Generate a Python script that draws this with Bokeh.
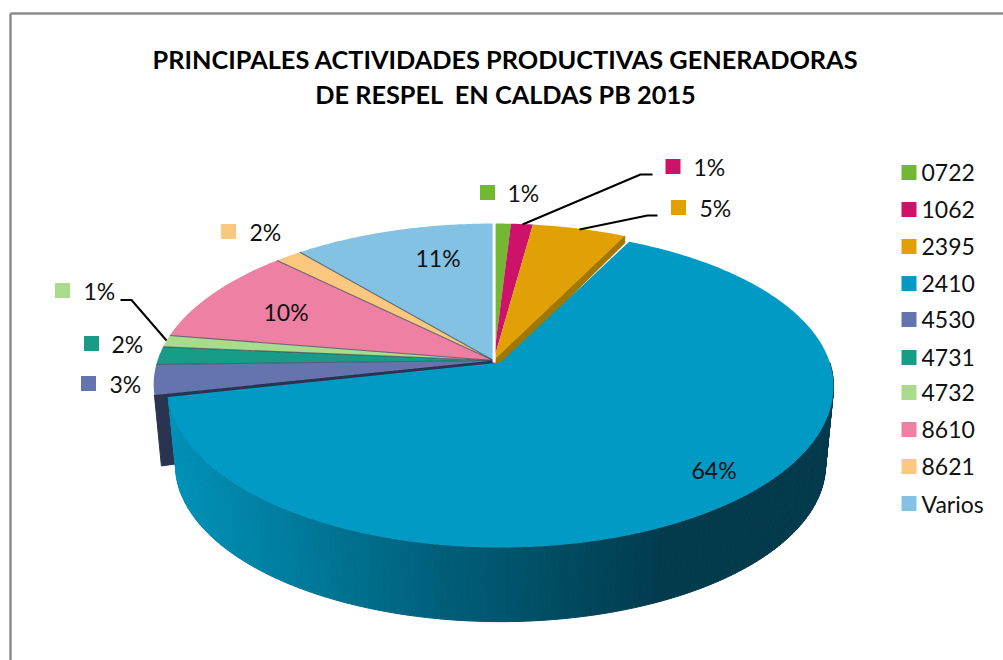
import numpy as np
from bokeh.plotting import figure
from bokeh.embed import file_html
from bokeh.resources import INLINE
from bokeh.core.properties import value

# ---- data ----
categories = ["0722", "1062", "2395", "2410", "4530", "4731", "4732", "8610", "8621", "Varios"]
shares = [0.95, 1.2, 5.15, 64.3, 3.0, 1.8, 1.2, 9.8, 1.5, 11.1]
pct_labels = ["1%", "1%", "5%", "64%", "3%", "2%", "1%", "10%", "2%", "11%"]
colors = ["#72b833", "#cf1269", "#e0a006", "#009ac4", "#6474ad",
          "#189c88", "#a8dc8c", "#ee80a4", "#fcc880", "#84c2e4"]
title_lines = ["PRINCIPALES ACTIVIDADES PRODUCTIVAS GENERADORAS", "DE RESPEL\u00a0 EN CALDAS PB 2015"]

# ---- layout (image pixel coordinates) ----
FONT = value("Lato")
p = figure(width=1003, height=660, x_range=(0, 1003), y_range=(660, 0),
           output_backend="svg", toolbar_location=None, min_border=0)
p.axis.visible = False
p.grid.visible = False
p.outline_line_color = None
p.background_fill_color = "white"

K, A_Y, A_X = 0.149, 157.4, 336.0

def rim(theta, cx, cy, scale=1.0, back=1.0):
    u, v = np.sin(theta), -np.cos(theta)
    w = 1 - K * v
    return cx + scale * A_X * u / w, cy + A_Y * v / w * np.where(v < 0, back, 1.0)

def arc(a0, a1, cx, cy, scale=1.0, back=1.0):
    n = max(3, int(abs(a1 - a0) * 90))
    x, y = rim(np.linspace(a0, a1, n), cx, cy, scale, back)
    return [cx] + list(x), [cy] + list(y)

edges = np.cumsum([0] + shares) / sum(shares) * 2 * np.pi
CX, CY = 493.0, 360.0
BX, BY, BS, BB = 500.0, 362.0, 0.98, 0.97   # pulled-out slice
big = categories.index("2410")
gold = categories.index("2395")

# frame
p.line([10, 10], [660, 13], line_color="#8c8c8c", line_width=2.5)
p.line([10, 1003], [13, 13], line_color="#8c8c8c", line_width=2.5)

# dark radial wall of 4530, behind the pulled-out slice
x0, y0 = rim(edges[big + 1], CX, CY)
p.patch([CX, x0, x0 + 7, CX + 7], [CY, y0, y0 + 71, CY + 57], fill_color="#2a3350", line_color="#2a3350")
# radial wall of 2395
x1, y1 = rim(edges[gold + 1], CX, CY)
p.patch([CX, x1, x1, CX + 5], [CY, y1, y1 + 7, CY + 7], fill_color="#a07800", line_color="#a07800")

# top faces of the resting slices
for i in range(len(shares)):
    if i == big:
        continue
    xs, ys = arc(edges[i], edges[i + 1], CX, CY)
    p.patch(xs, ys, fill_color=colors[i], line_color=None)

# seams
for i in range(4, len(shares) - 1):
    xe, ye = rim(edges[i + 1], CX, CY)
    p.line([CX, xe], [CY, ye], line_color="#3c4a5c", line_width=1.1, line_alpha=0.75)
p.line([493.6, 493.6], [222, 362], line_color="white", line_width=3)

# gradient side of the pulled-out slice
stop_x = [170, 300, 440, 560, 660, 840]
stop_r = [0, 0, 0, 0, 3, 3]
stop_g = [146, 122, 95, 76, 60, 58]
stop_b = [184, 155, 122, 98, 78, 76]
SY, DY = 0.974, 79.0
th = np.linspace(np.pi * 0.5, edges[big + 1], 170)
tx, ty = rim(th, BX, BY, BS)
lx = BX + (tx - BX) * 0.976
ly = BY + DY + (ty - BY) * SY
sx, sy, sc = [], [], []
for j in range(len(th) - 1):
    sx.append([tx[j], tx[j + 1], lx[j + 1], lx[j]])
    sy.append([ty[j], ty[j + 1], ly[j + 1], ly[j]])
    m = 0.5 * (tx[j] + tx[j + 1])
    sc.append("#%02x%02x%02x" % (int(np.interp(m, stop_x, stop_r)),
                                  int(np.interp(m, stop_x, stop_g)),
                                  int(np.interp(m, stop_x, stop_b))))
p.patches(sx, sy, fill_color=sc, line_color=sc, line_width=1)

xs, ys = arc(edges[big], edges[big + 1], BX, BY, BS, BB)
p.patch(xs, ys, fill_color=colors[big], line_color=None)

# leader lines
p.line([120, 131, 166], [299.5, 299.5, 340], line_color="black", line_width=2)
p.line([522, 640, 652], [224, 174, 174], line_color="black", line_width=2)
p.line([579, 647, 657], [229, 215, 215], line_color="black", line_width=2)

# data labels: marker x, text x, y
label_pos = [(487, 507, 193), (672.5, 693, 167), (678, 699, 208), (670, 691, 470), (88, 109, 384),
             (91, 111, 344), (62, 83, 291), (242, 263, 312), (228, 249, 232), (394, 415, 258)]
for i, (mx, tx_, y_) in enumerate(label_pos):
    p.scatter([mx], [y_ - 1], marker="square", size=15, fill_color=colors[i], line_color=None)
    p.text([tx_], [y_ - 1], text=[pct_labels[i]], text_font=FONT, text_font_size="23px",
           text_color="#111111", text_baseline="middle", text_align="left")

# legend
legend_y = [172, 209, 246, 283, 319, 357, 392, 429, 466, 503]
p.scatter([908.5] * 10, legend_y, marker="square", size=15, fill_color=colors, line_color=None)
p.text([921] * 10, legend_y, text=categories, text_font=FONT, text_font_size="23px",
       text_color="#111111", text_baseline="middle", text_align="left")

# title
p.text([505, 505], [58, 93.5], text=title_lines, text_font=FONT, text_font_style="bold",
       text_font_size="25.3px", text_color="black", text_baseline="middle", text_align="center")

html = file_html(p, INLINE)
html = html.replace("</head>", "<style>html,body{margin:0;padding:0;overflow:hidden}</style></head>", 1)
open("out.html", "w").write(html)
